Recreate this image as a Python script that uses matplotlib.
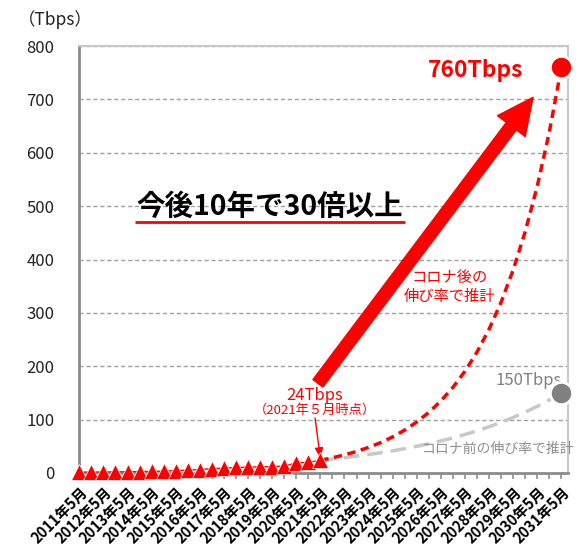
import numpy as np
import matplotlib.pyplot as plt

plt.rcParams['font.family'] = ['Noto Sans CJK JP', 'DejaVu Sans']

#%% Data
years = list(range(2011, 2032))
# half-year steps: 2011/5, 2011/11, ..., 2031/5
tick_labels = []
for y in years:
    tick_labels.append(f"{y}年5月")
    if y != years[-1]:
        tick_labels.append("")

actual = [1.6, 1.7, 1.9, 2.1, 2.3, 2.6, 2.9, 3.5, 4.4, 5.4, 6.3,
          8.2, 8.9, 10.3, 10.9, 11.5, 12.1, 12.6, 19.0, 19.8, 23.6]
after_covid = [23.6, 28.5, 33.9, 40.3, 47.9, 56.9, 67.6, 80.4, 95.5, 113.6, 135,
               160.4, 190.7, 226.7, 269.4, 320.2, 380.6, 452.4, 537.7, 639.1, 760]
before_covid = [23.6, 26.3, 28.8, 31.6, 34.6, 37.9, 41.6, 45.6, 50.0, 54.8, 60.0,
                65.8, 72.1, 79.0, 86.6, 94.9, 104.0, 114.0, 124.9, 136.9, 150]

x_act = np.arange(len(actual))
x_proj = np.arange(len(actual) - 1, len(actual) - 1 + len(after_covid))

#%% Plotting
fig = plt.figure(figsize=(5.82, 5.48), dpi=100)
ax = fig.add_axes([0.1363, 0.1369, 0.8397, 0.7791])

ax.set_xlim(0, 40.55)
ax.set_ylim(0, 800)
ax.set_yticks(np.arange(0, 801, 100))
ax.yaxis.grid(True, color='#a0a0a0', ls=(0, (3, 2)), lw=1)
ax.set_axisbelow(True)
ax.tick_params(axis='y', length=0, pad=18, labelsize=12, labelcolor='#222222')

ax.set_xticks(np.arange(len(tick_labels)))
ax.set_xticklabels(tick_labels, rotation=45, ha='right', va='top',
                   rotation_mode='anchor', fontsize=10.5, fontweight='bold')
ax.tick_params(axis='x', length=4, width=1.2, color='#909090', pad=4)

for s in ['left', 'bottom']:
    ax.spines[s].set_color('#8c8c8c')
    ax.spines[s].set_linewidth(2)
for s in ['top', 'right']:
    ax.spines[s].set_color('#c8c8c8')
    ax.spines[s].set_linewidth(1.5)

# projections
ax.plot(x_proj, before_covid, color='#c8c8c8', lw=2.5, ls=(0, (4.5, 2.3)), zorder=3)
ax.plot(x_proj, after_covid, color='red', lw=2.5, ls=(0, (2.4, 1.6)), zorder=4)
ax.plot(x_proj[-1], after_covid[-1], 'o', color='red', ms=16, mec='white', mew=2,
        clip_on=False, zorder=6)
ax.plot(x_proj[-1], before_covid[-1], 'o', color='#808080', ms=16, mec='white', mew=2,
        clip_on=False, zorder=6)

# actual traffic
ax.plot(x_act, actual, color='red', lw=1, marker='^', ms=11.5, mec='white', mew=0.5,
        clip_on=False, zorder=5)

# big arrow
ax.annotate('', xy=(37.65, 704), xytext=(19.8, 168),
            arrowprops=dict(arrowstyle='simple,head_length=1.3,head_width=1.25,tail_width=0.45',
                            color='red', mutation_scale=20, shrinkA=0, shrinkB=0))
# small arrow
ax.annotate('', xy=(20.0, 28), xytext=(19.56, 103),
            arrowprops=dict(arrowstyle='-|>,head_length=0.6,head_width=0.25',
                            color='red', lw=1, shrinkA=0, shrinkB=0))

# texts
ax.text(32.9, 754, '760Tbps', color='red', fontsize=16.5, fontweight='bold',
        ha='center', va='center')
ax.text(37.3, 174, '150Tbps', color='#808080', fontsize=12, ha='center', va='center')
ax.text(15.8, 498, '今後10年で30倍以上', color='black', fontsize=20.5, fontweight='bold',
        ha='center', va='center')
ax.plot([4.6, 27.0], [470, 470], color='red', lw=2, solid_capstyle='butt')
ax.text(30.76, 348, 'コロナ後の\n伸び率で推計', color='red', fontsize=11,
        ha='center', va='center', linespacing=1.15)
ax.text(28.4, 45, 'コロナ前の伸び率で推計', color='#909090', fontsize=10,
        ha='left', va='center', clip_on=False)
ax.text(19.56, 146, '24Tbps', color='red', fontsize=12, ha='center', va='center')
ax.text(19.56, 118, '（2021年５月時点）', color='red', fontsize=9.5,
        ha='center', va='center')
fig.text(18 / 582, 1 - 20 / 548, '（Tbps）', fontsize=12.5, ha='left', va='center',
         color='#222222')

fig.savefig('out.png', dpi=100)
